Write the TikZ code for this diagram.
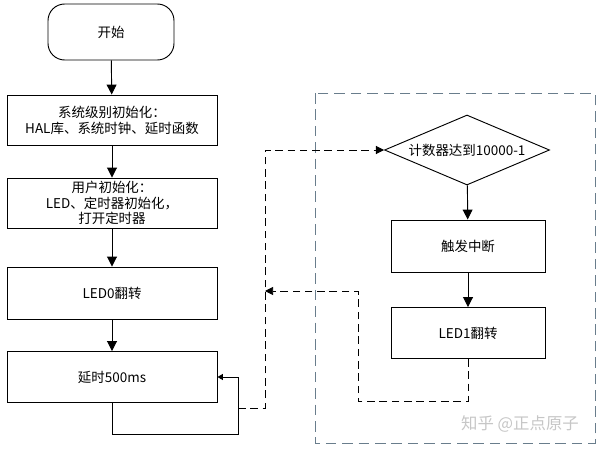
\documentclass[tikz,border=0pt]{standalone}
\usepackage{fontspec}
\newfontfamily\cjk{Noto Sans CJK SC}
\usetikzlibrary{shapes.geometric,arrows.meta}
\definecolor{framegray}{RGB}{105,125,140}

\begin{document}
\begin{tikzpicture}[x=0.03cm, y=-0.03cm,
        every node/.style={font=\cjk\fontsize{11.5}{13.5}\selectfont, align=center},
        stepbox/.style={draw, line width=0.8pt, minimum width=6.3cm, minimum height=1.5cm, inner sep=1pt},
        subbox/.style={draw, line width=0.8pt, minimum width=4.62cm, minimum height=1.56cm},
        flow/.style={line width=0.8pt, -{Triangle[length=8.5pt,width=8.5pt]}},
        back/.style={line width=0.8pt, -{Triangle[length=4.5pt,width=5pt]}},
        signal/.style={line width=0.8pt, dash pattern=on 6.5pt off 4pt, -{Triangle[length=7pt,width=7pt]}}]
        \useasboundingbox (0,0) rectangle (600,450);

        % Main program
        \node[draw, line width=0.8pt, rounded corners=0.5cm, minimum width=3.78cm, minimum height=1.68cm]
            (start) at (111,32) {开始};
        \node[stepbox] (sysinit) at (112,120) {系统级别初始化：\\HAL库、系统时钟、延时函数};
        \node[stepbox, inner sep=0pt] (userinit) at (112,203) {用户初始化：\\LED、定时器初始化，\\打开定时器};
        \node[stepbox, minimum height=1.56cm] (led0) at (112,293) {LED0翻转};
        \node[stepbox, minimum height=1.53cm] (delay) at (112,377) {延时500ms};

        \draw[flow] (start) -- (sysinit);
        \draw[flow] (sysinit) -- (userinit);
        \draw[flow] (userinit) -- (led0);
        \draw[flow] (led0) -- (delay);

        % Loop back into the delay
        \coordinate (loop) at (238,434);
        \draw[back] (delay.south) |- (loop) |- (delay.east);

        % Timer interrupt
        \draw[line width=0.8pt, color=framegray, dash pattern=on 9pt off 5pt]
            (315,93) rectangle (595,443);
        \node[draw, diamond, aspect=2.36, inner sep=0pt, minimum width=4.95cm, minimum height=2.1cm, line width=0.8pt]
            (count) at (467,150) {计数器达到10000-1};
        \node[subbox] (irq) at (468,246) {触发中断};
        \node[subbox, minimum height=1.53cm] (led1) at (468,333) {LED1翻转};

        \draw[flow] (count) -- (irq);
        \draw[flow] (irq) -- (led1);

        % Dashed jumps between both parts
        \coordinate (tap) at (238,408);
        \coordinate (bus) at (265,408);
        \coordinate (ret) at (358,401);
        \coordinate (busin) at (265,291);
        \draw[signal] (tap) -- (bus) |- (count.west);
        \draw[signal] (led1.south) |- (ret) |- (busin);

        \node[text=gray!45, font=\cjk\fontsize{14}{16}\selectfont] (mark) at (520,424) {知乎 @正点原子};
    \end{tikzpicture}
\end{document}
